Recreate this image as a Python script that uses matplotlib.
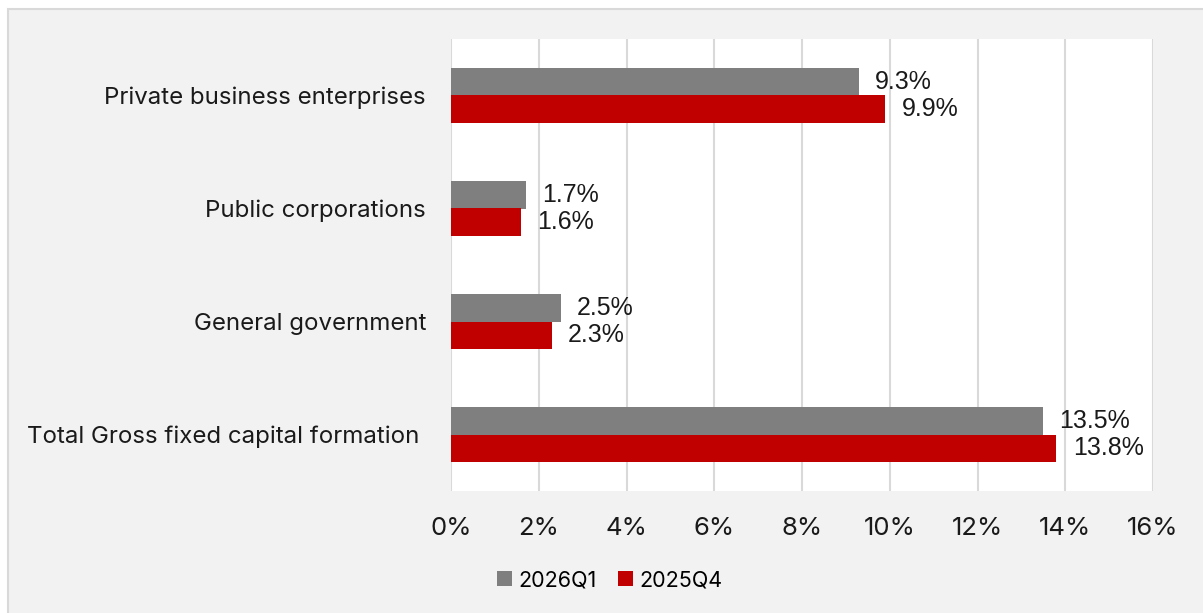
import matplotlib.pyplot as plt
from matplotlib.patches import Rectangle
from matplotlib.ticker import FuncFormatter

categories = ["Private business enterprises", "Public corporations",
              "General government", "Total Gross fixed capital formation "]
q1_2026 = [9.3, 1.7, 2.5, 13.5]
q4_2025 = [9.9, 1.6, 2.3, 13.8]
series_names = ["2026Q1", "2025Q4"]
xticks = [0, 2, 4, 6, 8, 10, 12, 14, 16]

GRAY = "#7f7f7f"
RED = "#c00000"
BG = "#f2f2f2"
GRID = "#d9d9d9"

plt.rcParams['font.family'] = ['Inter', 'DejaVu Sans']

W, H = 1203, 613
fig = plt.figure(figsize=(W / 100, H / 100), dpi=100)
fig.patch.set_facecolor("white")

# chart area with light border on the top/left
fig.patches.append(Rectangle((8 / W, -0.1), 1.2, 1.1 - 9 / H, transform=fig.transFigure,
                             facecolor=BG, edgecolor=GRID, linewidth=1.5, zorder=-1))

ax = fig.add_axes([451 / W, 1 - 491 / H, 702 / W, 452 / H])
ax.set_facecolor("white")

n = len(categories)
pos = [n - 1 - i for i in range(n)]
h = 0.24
ax.barh([p + h / 2 for p in pos], q1_2026, height=h, color=GRAY, label=series_names[0], zorder=3)
ax.barh([p - h / 2 for p in pos], q4_2025, height=h, color=RED, label=series_names[1], zorder=3)

for p, v in zip(pos, q1_2026):
    ax.text(v + 0.37, p + h / 2, f"{v:.1f}%", va="center", ha="left",
            fontsize=18, family=['Liberation Sans'], color="#1a1a1a")
for p, v in zip(pos, q4_2025):
    ax.text(v + 0.37, p - h / 2, f"{v:.1f}%", va="center", ha="left",
            fontsize=18, family=['Liberation Sans'], color="#1a1a1a")

ax.set_xlim(0, 16)
ax.set_ylim(-0.5, n - 0.5)
ax.set_xticks(xticks)
ax.xaxis.set_major_formatter(FuncFormatter(lambda x, _: f"{x:.0f}%"))
ax.set_yticks(pos)
ax.set_yticklabels(categories)
ax.tick_params(axis="x", length=0, pad=19, labelsize=18.5, colors="#1a1a1a")
ax.tick_params(axis="y", length=0, pad=18, labelsize=17.3, colors="#1a1a1a")
ax.grid(axis="x", color=GRID, linewidth=1.5, zorder=0)
for s in ax.spines.values():
    s.set_visible(False)

ax.legend(loc="center", bbox_to_anchor=(610 / W, 1 - 580 / H), bbox_transform=fig.transFigure,
          ncol=2, frameon=False, fontsize=15.5, handlelength=0.7, handleheight=0.75,
          handletextpad=0.3, columnspacing=1.0)

fig.savefig("out.png", dpi=100, facecolor=fig.get_facecolor())
